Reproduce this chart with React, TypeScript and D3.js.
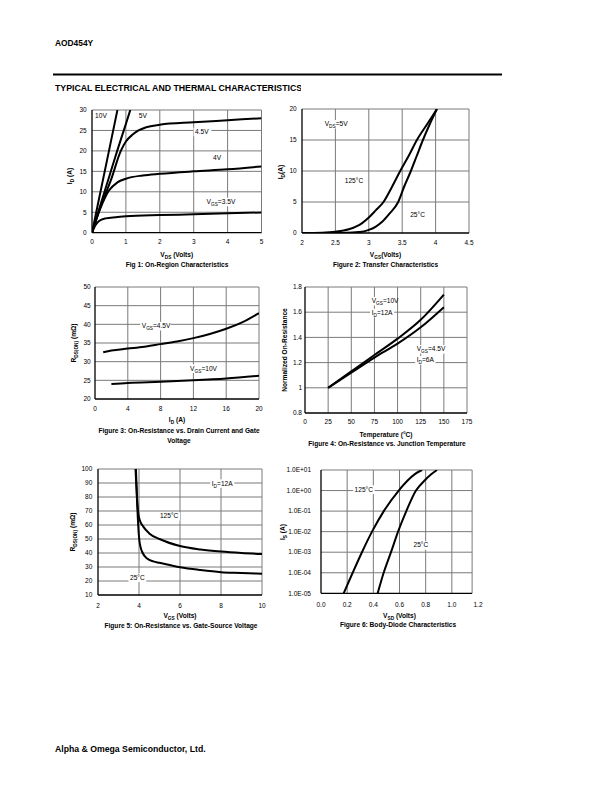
import React from 'react';
import * as d3 from 'd3';

type Pt = [number, number];
type Seg = { t: string; sub?: boolean };

const FONT = "'Liberation Sans', Arial, Helvetica, sans-serif";

// ---------- Figure 1: On-Region Characteristics ----------
const fig1XTicks = [0, 1, 2, 3, 4, 5];
const fig1YTicks = [0, 5, 10, 15, 20, 25, 30];
const fig1Vgs10: Pt[] = [[0, 0], [0.375, 15], [0.75, 30]];
const fig1Vgs5: Pt[] = [[0, 0], [0.25, 6.8], [0.5, 13.5], [0.75, 20.2], [1.0, 26.6], [1.13, 30]];
const fig1Vgs45: Pt[] = [[0, 0], [0.25, 6.3], [0.56, 12.9], [0.85, 20], [1.0, 22.3], [1.2, 24], [1.37, 25], [1.6, 25.8], [2, 26.4], [3, 27], [4, 27.5], [5, 28]];
const fig1Vgs4: Pt[] = [[0, 0], [0.25, 6], [0.5, 10.3], [0.75, 12.3], [1, 13.2], [1.5, 14], [2, 14.4], [3, 15], [4, 15.5], [5, 16.2]];
const fig1Vgs35: Pt[] = [[0, 0], [0.1, 1.8], [0.2, 2.8], [0.4, 3.5], [0.7, 3.8], [1, 4], [2, 4.3], [3, 4.5], [4, 4.75], [5, 4.95]];

// ---------- Figure 2: Transfer Characteristics ----------
const fig2XTicks = [2, 2.5, 3, 3.5, 4, 4.5];
const fig2YTicks = [0, 5, 10, 15, 20];
const fig2T125: Pt[] = [[2, 0], [2.3, 0.05], [2.5, 0.2], [2.7, 0.6], [2.9, 1.6], [3, 2.5], [3.1, 3.6], [3.22, 5], [3.35, 7.5], [3.47, 10], [3.6, 12.5], [3.72, 15], [3.87, 17.5], [4.02, 20]];
const fig2T25: Pt[] = [[2, 0], [2.6, 0.02], [2.9, 0.2], [3, 0.5], [3.1, 1], [3.2, 1.8], [3.3, 3], [3.44, 5], [3.53, 7.5], [3.63, 10], [3.72, 12.5], [3.81, 15], [3.91, 17.5], [4.02, 20]];

// ---------- Figure 3: On-Resistance vs. Drain Current ----------
const fig3XTicks = [0, 4, 8, 12, 16, 20];
const fig3YTicks = [20, 25, 30, 35, 40, 45, 50];
const fig3Vgs45: Pt[] = [[1, 32.5], [2, 33], [4, 33.5], [6, 34], [8, 34.7], [10, 35.4], [12, 36.3], [14, 37.4], [16, 38.8], [18, 40.6], [20, 43]];
const fig3Vgs10: Pt[] = [[2, 24], [4, 24.3], [8, 24.6], [12, 25], [16, 25.5], [20, 26.2]];

// ---------- Figure 4: On-Resistance vs. Junction Temperature ----------
const fig4XTicks = [0, 25, 50, 75, 100, 125, 150, 175];
const fig4YTicks = [0.8, 1, 1.2, 1.4, 1.6, 1.8];
const fig4Vgs10: Pt[] = [[25, 1], [50, 1.13], [75, 1.26], [100, 1.39], [125, 1.54], [150, 1.74]];
const fig4Vgs45: Pt[] = [[25, 1], [50, 1.12], [75, 1.24], [100, 1.35], [125, 1.48], [150, 1.64]];

// ---------- Figure 5: On-Resistance vs. Gate-Source Voltage ----------
const fig5XTicks = [2, 4, 6, 8, 10];
const fig5YTicks = [10, 20, 30, 40, 50, 60, 70, 80, 90, 100];
const fig5T125: Pt[] = [[3.85, 100], [3.88, 88], [3.92, 76], [3.97, 68], [4.05, 63], [4.2, 59], [4.5, 54], [5, 50], [6, 45], [7, 42.5], [8, 41], [9, 40], [10, 39.3]];
const fig5T25: Pt[] = [[3.83, 100], [3.88, 85], [3.92, 72], [3.96, 60], [4.01, 50], [4.08, 44], [4.18, 40], [4.4, 36], [4.7, 34], [5, 33], [6, 29.8], [7, 27.8], [8, 26.3], [9, 25.8], [10, 25.2]];

// ---------- Figure 6: Body-Diode Characteristics ----------
const fig6XTicks = [0, 0.2, 0.4, 0.6, 0.8, 1.0, 1.2];
const fig6YTicks = [1e-5, 1e-4, 1e-3, 1e-2, 1e-1, 1e0, 1e1];
const fig6YTickLabels = ['1.0E-05', '1.0E-04', '1.0E-03', '1.0E-02', '1.0E-01', '1.0E+00', '1.0E+01'];
const fig6T125: Pt[] = [[0.173, 1e-5], [0.242, 1e-4], [0.313, 1e-3], [0.39, 1e-2], [0.48, 1e-1], [0.594, 1], [0.66, 3], [0.72, 6.5], [0.772, 10]];
const fig6T25: Pt[] = [[0.433, 1e-5], [0.479, 1e-4], [0.535, 1e-3], [0.589, 1e-2], [0.652, 1e-1], [0.726, 1], [0.79, 3], [0.84, 6], [0.887, 10]];

interface Lbl { x: number; y: number; segs: Seg[] }

interface Spec {
  id: string;
  left: number; right: number; top: number; bottom: number;
  xDomain: [number, number]; yDomain: [number, number]; yLog?: boolean;
  frameXMax?: number;
  xTicks: number[]; yTicks: number[];
  xFmt: (v: number, i: number) => string; yFmt: (v: number, i: number) => string;
  series: Pt[][];
  labels: Lbl[];
  xTitle: Seg[]; yTitle: Seg[]; title: string[];
  yTickRight: number; xTickY: number; xTitleY: number; titleY: number; titleX: number;
  yTitleX: number; yTitleY: number;
}

const TICK_FS = 6.5;
const LBL_FS = 6.6;
const AX_FS = 6.6;
const TITLE_FS = 6.6;

function SegText({ segs, size }: { segs: Seg[]; size: number }) {
  let cur = 0;
  return (
    <>
      {segs.map((s, i) => {
        const want = s.sub ? size * 0.3 : 0;
        const dy = want - cur;
        cur = want;
        return (
          <tspan key={i} dy={dy || undefined} fontSize={s.sub ? size * 0.72 : size}>
            {s.t}
          </tspan>
        );
      })}
    </>
  );
}

function estWidth(segs: Seg[], size: number) {
  return segs.reduce((w, s) => w + s.t.length * 0.56 * (s.sub ? size * 0.72 : size), 0);
}

function Chart({ s }: { s: Spec }) {
  const x = d3.scaleLinear().domain(s.xDomain).range([s.left, s.right]);
  const y = s.yLog
    ? d3.scaleLog().domain(s.yDomain).range([s.bottom, s.top])
    : d3.scaleLinear().domain(s.yDomain).range([s.bottom, s.top]);
  const fr = s.frameXMax !== undefined ? x(s.frameXMax) : s.right;
  const line = d3
    .line<Pt>()
    .x((d) => x(d[0]))
    .y((d) => y(d[1]))
    .curve(d3.curveMonotoneX);
  const clipId = `clip-${s.id}`;
  const gx = s.xTicks.filter((v) => x(v) > s.left + 0.5 && x(v) < fr - 0.5);
  const gy = s.yTicks.filter((v) => y(v) < s.bottom - 0.5 && y(v) > s.top + 0.5);
  const midX = (s.left + s.right) / 2;
  return (
    <g>
      <defs>
        <clipPath id={clipId}>
          <rect x={s.left} y={s.top} width={fr - s.left} height={s.bottom - s.top} />
        </clipPath>
      </defs>
      {gx.map((v) => (
        <line key={'gx' + v} x1={x(v)} x2={x(v)} y1={s.top} y2={s.bottom} stroke="#7a7a7a" strokeWidth={1} />
      ))}
      {gy.map((v) => (
        <line key={'gy' + v} x1={s.left} x2={fr} y1={y(v)} y2={y(v)} stroke="#7a7a7a" strokeWidth={1} />
      ))}
      <line x1={s.left} x2={fr} y1={s.top} y2={s.top} stroke="#7a7a7a" strokeWidth={1} />
      <line x1={fr} x2={fr} y1={s.top} y2={s.bottom} stroke="#7a7a7a" strokeWidth={1} />
      {s.labels.map((l, i) => {
        const w = estWidth(l.segs, LBL_FS);
        const lx = x(l.x);
        const ly = y(l.y);
        return (
          <g key={'l' + i}>
            <rect x={lx - 1.5} y={ly - LBL_FS * 0.6} width={w + 3} height={LBL_FS * 1.3} fill="#fff" />
            <text x={lx} y={ly + LBL_FS * 0.35} fontSize={LBL_FS} fontFamily={FONT} fill="#000">
              <SegText segs={l.segs} size={LBL_FS} />
            </text>
          </g>
        );
      })}
      <g clipPath={`url(#${clipId})`}>
        {s.series.map((d, i) => (
          <path key={'s' + i} d={line(d) || ''} fill="none" stroke="#000" strokeWidth={2} strokeLinejoin="round" />
        ))}
      </g>
      <line x1={s.left} x2={s.left} y1={s.top} y2={s.bottom} stroke="#000" strokeWidth={1.3} />
      <line x1={s.left} x2={fr} y1={s.bottom} y2={s.bottom} stroke="#000" strokeWidth={1.3} />
      {s.yTicks.map((v, i) => (
        <text key={'yt' + i} x={s.yTickRight} y={y(v) + TICK_FS * 0.35} fontSize={TICK_FS} textAnchor="end" fontFamily={FONT} fill="#000">
          {s.yFmt(v, i)}
        </text>
      ))}
      {s.xTicks.map((v, i) => (
        <text key={'xt' + i} x={x(v)} y={s.xTickY + TICK_FS * 0.35} fontSize={TICK_FS} textAnchor="middle" fontFamily={FONT} fill="#000">
          {s.xFmt(v, i)}
        </text>
      ))}
      <text x={midX} y={s.xTitleY + AX_FS * 0.35} fontSize={AX_FS} textAnchor="middle" fontFamily={FONT} fontWeight="bold" fill="#000">
        <SegText segs={s.xTitle} size={AX_FS} />
      </text>
      <text
        transform={`translate(${s.yTitleX},${s.yTitleY}) rotate(-90)`}
        y={AX_FS * 0.35}
        fontSize={AX_FS}
        textAnchor="middle"
        fontFamily={FONT}
        fontWeight="bold"
        fill="#000"
      >
        <SegText segs={s.yTitle} size={AX_FS} />
      </text>
      {s.title.map((t, i) => (
        <text key={'t' + i} x={s.titleX} y={s.titleY + i * 10 + TITLE_FS * 0.35} fontSize={TITLE_FS} textAnchor="middle" fontFamily={FONT} fontWeight="bold" fill="#000">
          {t}
        </text>
      ))}
    </g>
  );
}

const fmtInt = (v: number) => String(v);

const specs: Spec[] = [
  {
    id: 'f1', left: 92, right: 261.5, top: 110, bottom: 232.7,
    xDomain: [0, 5], yDomain: [0, 30],
    xTicks: fig1XTicks, yTicks: fig1YTicks, xFmt: fmtInt, yFmt: fmtInt,
    series: [fig1Vgs10, fig1Vgs5, fig1Vgs45, fig1Vgs4, fig1Vgs35],
    labels: [
      { x: 0.09, y: 28.5, segs: [{ t: '10V' }] },
      { x: 1.38, y: 28.5, segs: [{ t: '5V' }] },
      { x: 3.04, y: 24.7, segs: [{ t: '4.5V' }] },
      { x: 3.57, y: 18.4, segs: [{ t: '4V' }] },
      { x: 3.38, y: 7.6, segs: [{ t: 'V' }, { t: 'GS', sub: true }, { t: '=3.5V' }] },
    ],
    xTitle: [{ t: 'V' }, { t: 'DS', sub: true }, { t: ' (Volts)' }],
    yTitle: [{ t: 'I' }, { t: 'D', sub: true }, { t: ' (A)' }],
    title: ['Fig 1: On-Region Characteristics'],
    yTickRight: 86.7, xTickY: 242, xTitleY: 255, titleY: 264.5, titleX: 177, yTitleX: 70, yTitleY: 176,
  },
  {
    id: 'f2', left: 302, right: 469, top: 109, bottom: 233,
    xDomain: [2, 4.5], yDomain: [0, 20],
    xTicks: fig2XTicks, yTicks: fig2YTicks, xFmt: fmtInt, yFmt: fmtInt,
    series: [fig2T125, fig2T25],
    labels: [
      { x: 2.34, y: 17.6, segs: [{ t: 'V' }, { t: 'DS', sub: true }, { t: '=5V' }] },
      { x: 2.64, y: 8.4, segs: [{ t: '125°C' }] },
      { x: 3.62, y: 2.9, segs: [{ t: '25°C' }] },
    ],
    xTitle: [{ t: 'V' }, { t: 'GS', sub: true }, { t: '(Volts)' }],
    yTitle: [{ t: 'I' }, { t: 'D', sub: true }, { t: '(A)' }],
    title: ['Figure 2: Transfer Characteristics'],
    yTickRight: 296.7, xTickY: 242.5, xTitleY: 255, titleY: 264.5, titleX: 385.5, yTitleX: 281, yTitleY: 172,
  },
  {
    id: 'f3', left: 95, right: 259, top: 287, bottom: 399,
    xDomain: [0, 20], yDomain: [20, 50],
    xTicks: fig3XTicks, yTicks: fig3YTicks, xFmt: fmtInt, yFmt: fmtInt,
    series: [fig3Vgs45, fig3Vgs10],
    labels: [
      { x: 5.7, y: 39.6, segs: [{ t: 'V' }, { t: 'GS', sub: true }, { t: '=4.5V' }] },
      { x: 11.6, y: 28.2, segs: [{ t: 'V' }, { t: 'GS', sub: true }, { t: '=10V' }] },
    ],
    xTitle: [{ t: 'I' }, { t: 'D', sub: true }, { t: ' (A)' }],
    yTitle: [{ t: 'R' }, { t: 'DS(ON)', sub: true }, { t: ' (mΩ)' }],
    title: ['Figure 3: On-Resistance vs. Drain Current and Gate', 'Voltage'],
    yTickRight: 90.7, xTickY: 408.5, xTitleY: 419.5, titleY: 430.5, titleX: 179, yTitleX: 73.5, yTitleY: 343,
  },
  {
    id: 'f4', left: 305, right: 467, top: 287, bottom: 413,
    xDomain: [0, 175], yDomain: [0.8, 1.8],
    xTicks: fig4XTicks, yTicks: fig4YTicks, xFmt: fmtInt, yFmt: (v) => String(Math.round(v * 10) / 10),
    series: [fig4Vgs10, fig4Vgs45],
    labels: [
      { x: 72, y: 1.69, segs: [{ t: 'V' }, { t: 'GS', sub: true }, { t: '=10V' }] },
      { x: 72, y: 1.596, segs: [{ t: 'I' }, { t: 'D', sub: true }, { t: '=12A' }] },
      { x: 120.6, y: 1.308, segs: [{ t: 'V' }, { t: 'GS', sub: true }, { t: '=4.5V' }] },
      { x: 120.6, y: 1.22, segs: [{ t: 'I' }, { t: 'D', sub: true }, { t: '=6A' }] },
    ],
    xTitle: [{ t: 'Temperature (°C)' }],
    yTitle: [{ t: 'Normalized On-Resistance' }],
    title: ['Figure 4: On-Resistance vs. Junction Temperature'],
    yTickRight: 302, xTickY: 422, xTitleY: 435, titleY: 443.5, titleX: 387, yTitleX: 285, yTitleY: 350,
  },
  {
    id: 'f5', left: 98, right: 262, top: 469, bottom: 595,
    xDomain: [2, 10], yDomain: [10, 100],
    xTicks: fig5XTicks, yTicks: fig5YTicks, xFmt: fmtInt, yFmt: fmtInt,
    series: [fig5T125, fig5T25],
    labels: [
      { x: 7.55, y: 89.8, segs: [{ t: 'I' }, { t: 'D', sub: true }, { t: '=12A' }] },
      { x: 5.02, y: 66.4, segs: [{ t: '125°C' }] },
      { x: 3.56, y: 22.6, segs: [{ t: '25°C' }] },
    ],
    xTitle: [{ t: 'V' }, { t: 'GS', sub: true }, { t: ' (Volts)' }],
    yTitle: [{ t: 'R' }, { t: 'DS(ON)', sub: true }, { t: ' (mΩ)' }],
    title: ['Figure 5: On-Resistance vs. Gate-Source Voltage'],
    yTickRight: 92.3, xTickY: 605.5, xTitleY: 616, titleY: 626, titleX: 181, yTitleX: 72.7, yTitleY: 532,
  },
  {
    id: 'f6', left: 321, right: 478, top: 470, bottom: 593.3,
    xDomain: [0, 1.2], yDomain: [1e-5, 1e1], yLog: true, frameXMax: 1.155,
    xTicks: fig6XTicks, yTicks: fig6YTicks, xFmt: (v) => v.toFixed(1), yFmt: (_v, i) => fig6YTickLabels[i],
    series: [fig6T125, fig6T25],
    labels: [
      { x: 0.257, y: 1.15, segs: [{ t: '125°C' }] },
      { x: 0.707, y: 2.2e-3, segs: [{ t: '25°C' }] },
    ],
    xTitle: [{ t: 'V' }, { t: 'SD', sub: true }, { t: ' (Volts)' }],
    yTitle: [{ t: 'I' }, { t: 'S', sub: true }, { t: ' (A)' }],
    title: ['Figure 6: Body-Diode Characteristics'],
    yTickRight: 311, xTickY: 604.5, xTitleY: 615.5, titleY: 625, titleX: 398, yTitleX: 283, yTitleY: 532,
  },
];

export default function App() {
  return (
    <svg
      width={612}
      height={792}
      viewBox="0 0 612 792"
      style={{ position: 'absolute', left: 0, top: 0, background: '#fff' }}
    >
      <rect x={0} y={0} width={612} height={792} fill="#fff" />
      <defs>
        <clipPath id="hdrclip">
          <rect x={0} y={70} width={301} height={30} />
        </clipPath>
      </defs>
      <text x={55} y={46} fontSize={8.4} fontWeight="bold" fontFamily={FONT} fill="#000">
        AOD454Y
      </text>
      <line x1={53} x2={502} y1={74.5} y2={74.5} stroke="#000" strokeWidth={2.2} />
      <text x={55} y={91} fontSize={8.75} fontWeight="bold" fontFamily={FONT} fill="#000" clipPath="url(#hdrclip)">
        TYPICAL ELECTRICAL AND THERMAL CHARACTERISTICS
      </text>
      {specs.map((s) => (
        <Chart key={s.id} s={s} />
      ))}
      <text x={55} y={752} fontSize={8.7} fontWeight="bold" fontFamily={FONT} fill="#000">
        Alpha &amp; Omega Semiconductor, Ltd.
      </text>
    </svg>
  );
}
